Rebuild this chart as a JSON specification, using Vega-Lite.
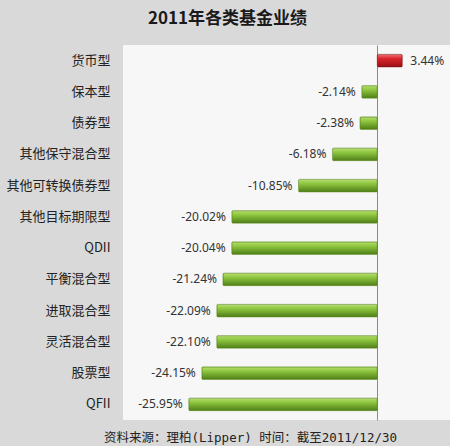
{
  "$schema": "https://vega.github.io/schema/vega-lite/v6.json",
  "width": 327,
  "height": 375,
  "autosize": {"type": "none"},
  "padding": {"left": 123, "top": 45, "right": 0, "bottom": 26},
  "background": "#d9d9d9",
  "title": {
    "text": "2011年各类基金业绩",
    "font": "Noto Sans CJK SC",
    "fontSize": 17,
    "fontWeight": "bold",
    "color": "#1a1a1a",
    "anchor": "middle",
    "frame": "group",
    "dx": -59,
    "offset": 17
  },
  "config": {"view": {"fill": "#f7f7f7", "stroke": null}},
  "data": {
    "values": [
      {"cat": "货币型", "v": 3.44, "label": "3.44%"},
      {"cat": "保本型", "v": -2.14, "label": "-2.14%"},
      {"cat": "债券型", "v": -2.38, "label": "-2.38%"},
      {"cat": "其他保守混合型", "v": -6.18, "label": "-6.18%"},
      {"cat": "其他可转换债券型", "v": -10.85, "label": "-10.85%"},
      {"cat": "其他目标期限型", "v": -20.02, "label": "-20.02%"},
      {"cat": "QDII", "v": -20.04, "label": "-20.04%"},
      {"cat": "平衡混合型", "v": -21.24, "label": "-21.24%"},
      {"cat": "进取混合型", "v": -22.09, "label": "-22.09%"},
      {"cat": "灵活混合型", "v": -22.10, "label": "-22.10%"},
      {"cat": "股票型", "v": -24.15, "label": "-24.15%"},
      {"cat": "QFII", "v": -25.95, "label": "-25.95%"}
    ]
  },
  "encoding": {
    "y": {
      "field": "cat",
      "type": "nominal",
      "sort": ["货币型", "保本型", "债券型", "其他保守混合型", "其他可转换债券型", "其他目标期限型", "QDII", "平衡混合型", "进取混合型", "灵活混合型", "股票型", "QFII"],
      "scale": {"paddingInner": 0.6, "paddingOuter": 0.3},
      "axis": {
        "title": null,
        "ticks": false,
        "domain": false,
        "labelFont": "Noto Sans CJK SC",
        "labelFontSize": 13,
        "labelColor": "#222222",
        "labelPadding": 13
      }
    },
    "x": {
      "field": "v",
      "type": "quantitative",
      "scale": {"domain": [-35, 10], "nice": false, "zero": false},
      "axis": {
        "labels": false,
        "ticks": false,
        "domain": false,
        "grid": true,
        "values": [0],
        "gridColor": "#8a8a8a",
        "gridWidth": 1,
        "title": "资料来源：理柏(Lipper)  时间：截至2011/12/30",
        "titleFont": "DejaVu Sans Mono, Noto Sans CJK SC",
        "titleFontSize": 12.5,
        "titleFontWeight": "normal",
        "titleColor": "#222222",
        "titleX": 127,
        "titleY": 17,
        "titleAlign": "center",
        "titleBaseline": "middle"
      }
    }
  },
  "layer": [
    {
      "transform": [{"filter": "datum.v < 0"}],
      "mark": {
        "type": "bar",
        "stroke": "#5a8a1e",
        "strokeWidth": 0.6,
        "cornerRadius": 1,
        "fill": {
          "gradient": "linear", "x1": 0, "y1": 0, "x2": 0, "y2": 1,
          "stops": [
            {"offset": 0, "color": "#b8de70"},
            {"offset": 0.35, "color": "#8dc63f"},
            {"offset": 1, "color": "#4f7e18"}
          ]
        }
      }
    },
    {
      "transform": [{"filter": "datum.v >= 0"}],
      "mark": {
        "type": "bar",
        "stroke": "#8a1015",
        "strokeWidth": 0.6,
        "cornerRadius": 1,
        "fill": {
          "gradient": "linear", "x1": 0, "y1": 0, "x2": 0, "y2": 1,
          "stops": [
            {"offset": 0, "color": "#f07070"},
            {"offset": 0.35, "color": "#d9232b"},
            {"offset": 1, "color": "#9b1016"}
          ]
        }
      }
    },
    {
      "transform": [{"filter": "datum.v < 0"}],
      "mark": {"type": "text", "align": "right", "dx": -6, "font": "Noto Sans", "fontSize": 12, "color": "#333333"},
      "encoding": {"text": {"field": "label"}}
    },
    {
      "transform": [{"filter": "datum.v >= 0"}],
      "mark": {"type": "text", "align": "left", "dx": 8, "font": "Noto Sans", "fontSize": 12, "color": "#333333"},
      "encoding": {"text": {"field": "label"}}
    }
  ]
}
